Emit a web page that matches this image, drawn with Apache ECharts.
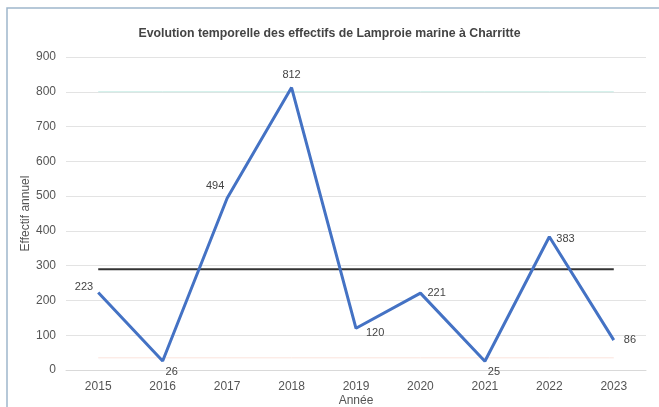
<!DOCTYPE html>
<html>
<head>
<meta charset="utf-8">
<script src="https://cdn.jsdelivr.net/npm/echarts@6/dist/echarts.min.js"></script>
<style>
html, body { margin: 0; padding: 0; background: #fff; }
#chart { width: 659px; height: 407px; }
</style>
</head>
<body>
<div id="chart"></div>
<script>
var years = ['2015', '2016', '2017', '2018', '2019', '2020', '2021', '2022', '2023'];
var effectifs = [223, 26, 494, 812, 120, 221, 25, 383, 86];
var moyenne = [290, 290, 290, 290, 290, 290, 290, 290, 290];
var seuilHaut = [800, 800, 800, 800, 800, 800, 800, 800, 800];
var seuilBas = [35, 35, 35, 35, 35, 35, 35, 35, 35];
// label positions per point
var labelPos = ['left', 'bottom', 'top', 'top', 'right', 'right', 'bottom', 'right', 'right'];

var myChart = echarts.init(document.getElementById('chart'));

var pts = [];
for (var i = 0; i < effectifs.length; i++) {
	pts.push({
		value: effectifs[i],
		label: { position: labelPos[i] }
	});
}
pts[0].label.offset = [2, -5];
pts[1].label.offset = [9, -1];
pts[2].label.offset = [-12, 0];
pts[4].label.offset = [3, 5];
pts[6].label.offset = [9, -2];
pts[7].label.offset = [0, 2];
pts[8].label.offset = [3, 0];

var font = "'Liberation Sans', sans-serif";

var option = {
	backgroundColor: '#fff',
	animation: false,
	graphic: [{
		type: 'rect',
		shape: { x: 7, y: 8, width: 660, height: 410 },
		style: { fill: 'none', stroke: '#9fb6cc', lineWidth: 1.5 },
		silent: true
	}],
	title: {
		text: 'Evolution temporelle des effectifs de Lamproie marine à Charritte',
		left: 'center',
		top: 23,
		textStyle: { fontFamily: font, fontSize: 12.3, fontWeight: 'bold', color: '#444' }
	},
	grid: { left: 66, right: 13, top: 57, bottom: 37, outerBoundsMode: 'none' },
	xAxis: {
		type: 'category',
		data: years,
		boundaryGap: true,
		name: 'Année',
		nameLocation: 'middle',
		nameGap: 25,
		nameMoveOverlap: false,
		nameTextStyle: { fontFamily: font, fontSize: 12, color: '#555' },
		axisLine: { lineStyle: { color: '#d9d9d9' } },
		axisTick: { show: false },
		axisLabel: { fontFamily: font, fontSize: 12, color: '#555', margin: 11 }
	},
	yAxis: {
		type: 'value',
		min: 0,
		max: 900,
		interval: 100,
		name: 'Effectif annuel',
		nameLocation: 'middle',
		nameGap: 34,
		nameMoveOverlap: false,
		nameTextStyle: { fontFamily: font, fontSize: 12, color: '#555' },
		axisLine: { show: false },
		axisTick: { show: false },
		axisLabel: { fontFamily: font, fontSize: 12, color: '#555', margin: 10 },
		splitLine: { lineStyle: { color: '#e3e3e3' } }
	},
	series: [{
		type: 'line',
		data: seuilHaut,
		symbol: 'none',
		lineStyle: { color: '#c8ece6', width: 1 },
		silent: true
	}, {
		type: 'line',
		data: seuilBas,
		symbol: 'none',
		lineStyle: { color: '#fbe3dc', width: 1 },
		silent: true
	}, {
		type: 'line',
		data: moyenne,
		symbol: 'none',
		lineStyle: { color: '#333', width: 2 },
		silent: true
	}, {
		type: 'line',
		data: pts,
		symbol: 'circle',
		symbolSize: 2,
		showSymbol: true,
		itemStyle: { color: 'transparent', borderWidth: 0 },
		lineStyle: { color: '#4472c4', width: 3 },
		label: {
			show: true,
			fontFamily: font,
			fontSize: 11,
			color: '#444',
			distance: 6
		}
	}]
};

myChart.setOption(option);
</script>
</body>
</html>
